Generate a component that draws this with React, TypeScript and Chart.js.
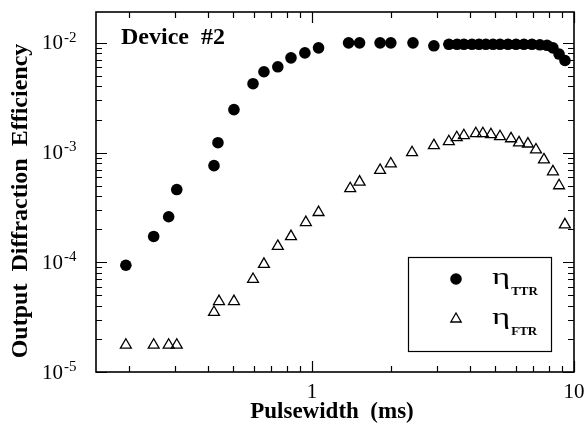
import React, { useEffect, useRef } from "react";
import { Chart, registerables } from "chart.js";

Chart.register(...registerables);

// ---- data ----
const ttrX = [0.195, 0.249, 0.284, 0.305, 0.423, 0.438, 0.504, 0.596, 0.656, 0.741, 0.832, 0.94, 1.06,
  1.38, 1.52, 1.82, 2.0, 2.43, 2.92,
  3.33, 3.58, 3.8, 4.08, 4.34, 4.61, 4.91, 5.22, 5.6, 6.01, 6.44, 6.91, 7.41, 7.89, 8.31, 8.77, 9.24];
const ttrY = [9.4e-5, 1.72e-4, 2.6e-4, 4.6e-4, 7.6e-4, 1.23e-3, 2.46e-3, 4.24e-3, 5.45e-3, 6.05e-3, 7.3e-3, 8.1e-3, 9.0e-3,
  1.0e-2, 1.0e-2, 1.0e-2, 1.0e-2, 1.0e-2, 9.4e-3,
  9.7e-3, 9.7e-3, 9.7e-3, 9.7e-3, 9.7e-3, 9.7e-3, 9.7e-3, 9.7e-3, 9.7e-3, 9.7e-3, 9.7e-3, 9.7e-3, 9.6e-3, 9.5e-3, 9.0e-3, 7.9e-3, 6.9e-3];

const ftrX = [0.195, 0.249, 0.284, 0.305, 0.423, 0.442, 0.504, 0.596, 0.656, 0.741, 0.832, 0.948, 1.06,
  1.4, 1.52, 1.82, 2.0, 2.41, 2.92, 3.33, 3.57, 3.8, 4.22, 4.49, 4.82, 5.22, 5.75, 6.17, 6.67, 7.16, 7.68, 8.31, 8.77, 9.23];
const ftrY = [1.76e-5, 1.76e-5, 1.76e-5, 1.76e-5, 3.5e-5, 4.4e-5, 4.4e-5, 7.0e-5, 9.6e-5, 1.4e-4, 1.72e-4, 2.31e-4, 2.85e-4,
  4.7e-4, 5.4e-4, 6.9e-4, 7.9e-4, 1.0e-3, 1.16e-3, 1.26e-3, 1.37e-3, 1.43e-3, 1.49e-3, 1.49e-3, 1.46e-3, 1.4e-3, 1.34e-3,
  1.23e-3, 1.2e-3, 1.06e-3, 8.6e-4, 6.7e-4, 5.0e-4, 2.2e-4];

const xTickValues = [1, 10];
const xTickLabels = ["1", "10"];
const yTickValues = [1e-5, 1e-4, 1e-3, 1e-2];
const yTickExponents = ["-5", "-4", "-3", "-2"];
const seriesSymbol = "\u03B7";
const seriesSubs = ["TTR", "FTR"];
const xTitle = "Pulsewidth  (ms)";
const yTitle = "Output  Diffraction  Efficiency";
const annotation = "Device  #2";

const SERIF = '"Liberation Serif", "Times New Roman", serif';

const decorPlugin = {
  id: "decor",
  afterDraw(chart: any) {
    const { ctx, chartArea: a, scales } = chart;
    const xs = scales.x;
    const ys = scales.y;
    ctx.save();
    ctx.strokeStyle = "#000";
    ctx.fillStyle = "#000";

    // frame
    ctx.lineWidth = 1.6;
    ctx.strokeRect(a.left, a.top, a.right - a.left, a.bottom - a.top);

    // inward ticks
    ctx.lineWidth = 1.2;
    const decadesX = [0.1, 1, 10];
    for (const d of decadesX) {
      for (let k = 1; k <= 9; k++) {
        const v = k * d;
        if (v < xs.min * 0.999 || v > xs.max * 1.001) continue;
        const px = Math.round(xs.getPixelForValue(v)) + 0.5;
        const len = k === 1 ? 11 : 6;
        ctx.beginPath();
        ctx.moveTo(px, a.bottom);
        ctx.lineTo(px, a.bottom - len);
        ctx.moveTo(px, a.top);
        ctx.lineTo(px, a.top + len);
        ctx.stroke();
      }
    }
    const decadesY = [1e-5, 1e-4, 1e-3, 1e-2];
    for (const d of decadesY) {
      for (let k = 1; k <= 9; k++) {
        const v = k * d;
        if (v < ys.min * 0.999 || v > ys.max * 1.001) continue;
        const py = Math.round(ys.getPixelForValue(v)) + 0.5;
        const len = k === 1 ? 11 : 6;
        ctx.beginPath();
        ctx.moveTo(a.left, py);
        ctx.lineTo(a.left + len, py);
        ctx.moveTo(a.right, py);
        ctx.lineTo(a.right - len, py);
        ctx.stroke();
      }
    }

    // y tick labels 10^n
    ctx.textAlign = "left";
    ctx.textBaseline = "middle";
    yTickValues.forEach((v, i) => {
      const py = ys.getPixelForValue(v);
      ctx.font = `21px ${SERIF}`;
      ctx.fillText("10", 42, py + 1);
      const w = ctx.measureText("10").width;
      ctx.font = `15px ${SERIF}`;
      ctx.fillText(yTickExponents[i], 42 + w + 1, py - 5);
    });

    // x tick labels
    ctx.textAlign = "center";
    ctx.font = `21px ${SERIF}`;
    xTickValues.forEach((v, i) => {
      const px = xs.getPixelForValue(v);
      ctx.fillText(xTickLabels[i], px, 392);
    });

    // axis titles
    ctx.font = `bold 23px ${SERIF}`;
    ctx.fillText(xTitle, 332, 412);
    ctx.save();
    ctx.translate(21, 201);
    ctx.rotate(-Math.PI / 2);
    ctx.font = `bold 24px ${SERIF}`;
    ctx.fillText(yTitle, 0, 0);
    ctx.restore();

    // annotation
    ctx.textAlign = "left";
    ctx.font = `bold 24px ${SERIF}`;
    ctx.fillText(annotation, 121, 38);

    // legend box
    ctx.lineWidth = 1.2;
    ctx.strokeRect(408.5, 257.5, 143, 94);
    const rows = [279, 319];
    chart.data.datasets.forEach((ds: any, i: number) => {
      const cy = rows[i];
      const cx = 456;
      ctx.beginPath();
      if (ds.pointStyle === "circle") {
        ctx.arc(cx, cy, 5.8, 0, Math.PI * 2);
        ctx.fillStyle = ds.backgroundColor;
        ctx.fill();
      } else {
        const r = 6;
        ctx.moveTo(cx, cy - r);
        ctx.lineTo(cx + r * Math.sin(Math.PI * 2 / 3), cy - r * Math.cos(Math.PI * 2 / 3));
        ctx.lineTo(cx + r * Math.sin(Math.PI * 4 / 3), cy - r * Math.cos(Math.PI * 4 / 3));
        ctx.closePath();
        ctx.lineWidth = ds.borderWidth;
        ctx.strokeStyle = ds.borderColor;
        ctx.stroke();
      }
      ctx.fillStyle = "#000";
      ctx.textBaseline = "alphabetic";
      ctx.font = `24px ${SERIF}`;
      ctx.save();
      ctx.translate(492, cy + 5);
      ctx.scale(1.45, 1);
      ctx.fillText(seriesSymbol, 0, 0);
      const w = ctx.measureText(seriesSymbol).width * 1.45;
      ctx.restore();
      ctx.font = `bold 13px ${SERIF}`;
      ctx.fillText(seriesSubs[i], 492 + w + 1, cy + 16);
    });

    ctx.restore();
  },
};

export default function App() {
  const ref = useRef<HTMLCanvasElement | null>(null);
  useEffect(() => {
    if (!ref.current) return;
    Chart.defaults.font.family = SERIF;
    const chart = new Chart(ref.current, {
      type: "scatter",
      data: {
        datasets: [
          {
            label: seriesSymbol + seriesSubs[0],
            data: ttrX.map((x, i) => ({ x, y: ttrY[i] })),
            pointStyle: "circle",
            pointRadius: 5.8,
            backgroundColor: "#000",
            borderColor: "#000",
            borderWidth: 0,
          },
          {
            label: seriesSymbol + seriesSubs[1],
            data: ftrX.map((x, i) => ({ x, y: ftrY[i] })),
            pointStyle: "triangle",
            pointRadius: 6.3,
            backgroundColor: "rgba(0,0,0,0)",
            borderColor: "#000",
            borderWidth: 1.3,
          },
        ],
      },
      options: {
        responsive: false,
        animation: false,
        layout: { padding: { left: 96, top: 12, right: 13, bottom: 60 } },
        plugins: { legend: { display: false }, tooltip: { enabled: false } },
        scales: {
          x: { type: "logarithmic", min: 0.15, max: 10, display: false, title: { display: false, text: xTitle } },
          y: { type: "logarithmic", min: 1e-5, max: 0.0191, display: false, title: { display: false, text: yTitle } },
        },
      },
      plugins: [decorPlugin],
    } as any);
    return () => chart.destroy();
  }, []);
  return (
    <div style={{ position: "absolute", left: 0, top: 0, width: 587, height: 432, background: "#fff" }}>
      <canvas ref={ref} width={587} height={432} style={{ display: "block" }} />
    </div>
  );
}
